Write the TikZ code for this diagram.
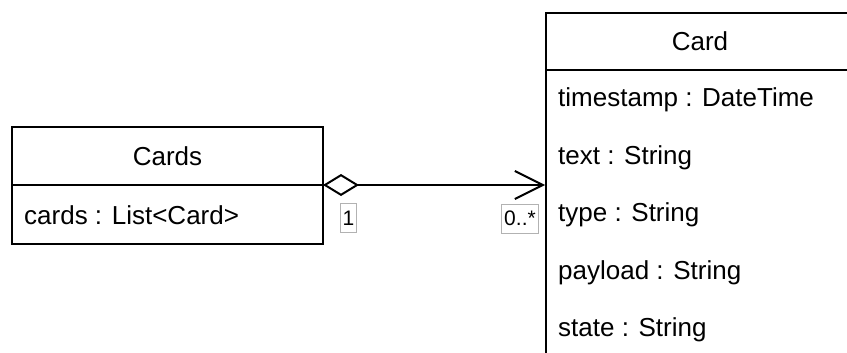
\documentclass[tikz,border=0pt]{standalone}
\usepackage{fontspec}
\setmainfont{Liberation Sans}
\usetikzlibrary{arrows.meta}
\begin{document}
\begin{tikzpicture}[x=1pt,y=-1pt,
  umlbox/.style={draw=black,line width=2pt,rectangle,inner sep=0pt},
  txt/.style={font=\fontsize{26}{30}\selectfont,inner sep=0pt,anchor=west},
  title/.style={font=\fontsize{26}{30}\selectfont,inner sep=0pt},
  mult/.style={draw=black!30,line width=0.8pt,font=\fontsize{21}{24}\selectfont,inner xsep=2.5pt,inner ysep=0pt,minimum height=29pt},
  conn/.style={line width=2pt}]
\useasboundingbox (0,0) rectangle (847,353);
\clip (0,0) rectangle (847,353);
% Cards class
\node[umlbox,minimum width=311pt,minimum height=117pt] (cardsbox) at (167.5,185.5) {};
\coordinate (cardsdivL) at (12,185);
\coordinate (cardsdivR) at (323,185);
\draw[conn] (cardsdivL) -- (cardsdivR);
\node[title] (cardstitle) at (167.5,156) {Cards};
\node[txt] (cardsattr) at (24,215) {cards : List<Card>};
% Card class
\node[umlbox,minimum width=310pt,minimum height=420pt,anchor=north west] (cardbox) at (545,12) {};
\coordinate (carddivL) at (545,70);
\coordinate (carddivR) at (855,70);
\draw[conn] (carddivL) -- (carddivR);
\node[title] (cardtitle) at (700,41) {Card};
\node[txt] (a1) at (558,100) {timestamp : DateTime};
\node[txt] (a2) at (558,158) {text : String};
\node[txt] (a3) at (558,215) {type : String};
\node[txt] (a4) at (558,273) {payload : String};
\node[txt] (a5) at (558,330) {state : String};
% association
\coordinate (src) at (323,185);
\coordinate (dst) at (545,185);
\draw[conn,{Diamond[open,length=36pt,width=22pt,line width=2pt]}-{Straight Barb[length=28pt,width=28pt,line width=2pt]}] (src) -- (dst);
\node[mult] (m1) at (348.5,218) {1};
\node[mult] (m2) at (520,218.5) {0..*};
\end{tikzpicture}
\end{document}
